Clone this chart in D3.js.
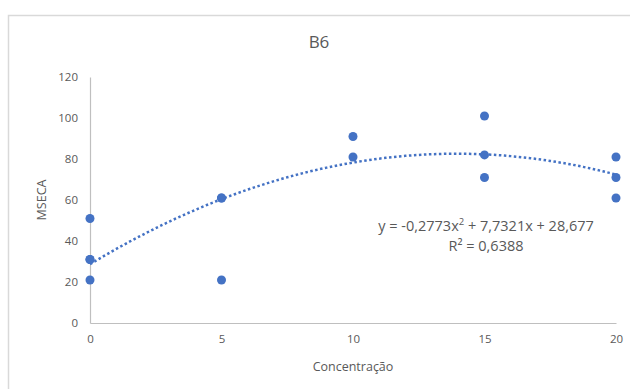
<!DOCTYPE html>
<html>
<head>
<meta charset="utf-8">
<script src="https://cdn.jsdelivr.net/npm/d3@7"></script>
<style>
  body { margin: 0; background: #fff; }
  text { font-family: "Open Sans", "Noto Sans", sans-serif; fill: #595959; }
</style>
</head>
<body>
<div class="chart-b6"></div>
<script>
// points (concentration, MSECA)
const concentracao = [0, 0, 0, 0, 5, 5, 5, 10, 10, 15, 15, 15, 20, 20, 20];
const mseca        = [51, 31, 31, 21, 61, 61, 21, 91, 81, 101, 82, 71, 81, 71, 61];
const xTicks = [0, 5, 10, 15, 20];
const yTicks = [0, 20, 40, 60, 80, 100, 120];
// polynomial trendline coefficients as printed on the chart
const trendCoef = [28.677, 7.7321, -0.2773];
const trendLabel = ["y = -0,2773x", " + 7,7321x  + 28,677"];
const r2Label = "R² = 0,6388";

let svg = d3.select(".chart-b6").append("svg").attr("width", 630).attr("height", 389);

// chart area border (runs off right and bottom)
svg.append("path")
    .attr("d", "M8.5,389 L8.5,15.5 L630,15.5")
    .attr("fill", "none")
    .attr("stroke", "#d9d9d9")
    .attr("stroke-width", 1.5);

let x = d3.scaleLinear().domain([0, 20]).range([90, 616]),
    y = d3.scaleLinear().domain([0, 120]).range([323, 77]);

svg.append("text")
    .attr("x", 319).attr("y", 48)
    .attr("text-anchor", "middle")
    .style("font-size", "17px")
    .text("B6");

// x axis
let gx = svg.append("g").attr("transform", "translate(0," + y(0) + ")")
    .call(d3.axisBottom(x).tickValues(xTicks).tickSize(0).tickPadding(12));
gx.select(".domain").attr("stroke", "#bfbfbf").attr("stroke-width", 1.2);
gx.selectAll("text").style("font-size", "11.5px").style("font-family", null);

// y axis
let gy = svg.append("g").attr("transform", "translate(" + x(0) + ",0)")
    .call(d3.axisLeft(y).tickValues(yTicks).tickSize(0).tickPadding(12));
gy.select(".domain").attr("stroke", "#bfbfbf").attr("stroke-width", 1.2);
gy.selectAll("text").style("font-size", "11.5px").style("font-family", null);

svg.append("text")
    .attr("transform", "translate(46,200) rotate(-90)")
    .attr("text-anchor", "middle")
    .style("font-size", "12.5px")
    .text("MSECA");

svg.append("text")
    .attr("x", 353).attr("y", 371)
    .attr("text-anchor", "middle")
    .style("font-size", "12.5px")
    .text("Concentração");

// trendline
let trend = d3.range(0, 20.01, 0.25).map(function (c) {
    return {c: c, v: trendCoef[0] + trendCoef[1] * c + trendCoef[2] * c * c};
});
svg.append("path")
    .datum(trend)
    .attr("fill", "none")
    .attr("stroke", "#4472c4")
    .attr("stroke-width", 2.5)
    .attr("stroke-dasharray", "2.5,2.5")
    .attr("d", d3.line().x(function (d) { return x(d.c); }).y(function (d) { return y(d.v); }));

// points
svg.selectAll(".pt")
    .data(concentracao.map(function (c, i) { return {c: c, v: mseca[i]}; }))
    .enter().append("circle")
    .attr("class", "pt")
    .attr("cx", function (d) { return x(d.c); })
    .attr("cy", function (d) { return y(d.v); })
    .attr("r", 4.5)
    .attr("fill", "#4472c4");

// equation
let eq = svg.append("text")
    .attr("x", 486).attr("y", 231)
    .attr("text-anchor", "middle")
    .style("font-size", "14.5px");
eq.append("tspan").text(trendLabel[0]);
eq.append("tspan").attr("dy", -6).style("font-size", "9.5px").text("2");
eq.append("tspan").attr("dy", 6).text(trendLabel[1]);

svg.append("text")
    .attr("x", 486).attr("y", 251)
    .attr("text-anchor", "middle")
    .style("font-size", "14.5px")
    .text(r2Label);
</script>
</body>
</html>
